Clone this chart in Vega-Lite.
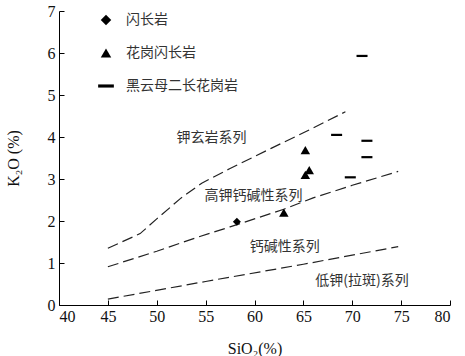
{
  "$schema": "https://vega.github.io/schema/vega-lite/v6.json",
  "autosize": "none",
  "width": 391,
  "height": 294,
  "padding": {"left": 59, "top": 11, "right": 15, "bottom": 51},
  "config": {
    "view": {"stroke": null}
  },
  "datasets": {
    "lines": [
      {"line": "a", "SiO2": 45, "K2O": 1.35},
      {"line": "a", "SiO2": 48.3, "K2O": 1.7},
      {"line": "a", "SiO2": 50, "K2O": 2.05},
      {"line": "a", "SiO2": 52.5, "K2O": 2.55},
      {"line": "a", "SiO2": 54.6, "K2O": 2.9},
      {"line": "a", "SiO2": 57.5, "K2O": 3.25},
      {"line": "a", "SiO2": 61.7, "K2O": 3.73},
      {"line": "a", "SiO2": 65, "K2O": 4.1},
      {"line": "a", "SiO2": 69.3, "K2O": 4.6},
      {"line": "b", "SiO2": 45, "K2O": 0.91},
      {"line": "b", "SiO2": 50, "K2O": 1.28},
      {"line": "b", "SiO2": 54, "K2O": 1.6},
      {"line": "b", "SiO2": 57.5, "K2O": 1.86},
      {"line": "b", "SiO2": 63, "K2O": 2.28},
      {"line": "b", "SiO2": 66, "K2O": 2.55},
      {"line": "b", "SiO2": 70, "K2O": 2.85},
      {"line": "b", "SiO2": 74.7, "K2O": 3.18},
      {"line": "c", "SiO2": 45, "K2O": 0.14},
      {"line": "c", "SiO2": 55, "K2O": 0.56},
      {"line": "c", "SiO2": 65, "K2O": 0.97},
      {"line": "c", "SiO2": 74.7, "K2O": 1.39}
    ],
    "points": [
      {"rock": "闪长岩", "SiO2": 58.2, "K2O": 1.98},
      {"rock": "花岗闪长岩", "SiO2": 65.2, "K2O": 3.69},
      {"rock": "花岗闪长岩", "SiO2": 65.6, "K2O": 3.21},
      {"rock": "花岗闪长岩", "SiO2": 65.2, "K2O": 3.1},
      {"rock": "花岗闪长岩", "SiO2": 63.0, "K2O": 2.2},
      {"rock": "黑云母二长花岗岩", "SiO2": 71.0, "K2O": 5.93},
      {"rock": "黑云母二长花岗岩", "SiO2": 68.4, "K2O": 4.05},
      {"rock": "黑云母二长花岗岩", "SiO2": 71.5, "K2O": 3.91},
      {"rock": "黑云母二长花岗岩", "SiO2": 71.5, "K2O": 3.52},
      {"rock": "黑云母二长花岗岩", "SiO2": 69.8, "K2O": 3.04}
    ],
    "labels": [
      {"text": "钾玄岩系列", "SiO2": 55.6, "K2O": 3.97},
      {"text": "高钾钙碱性系列", "SiO2": 59.9, "K2O": 2.6},
      {"text": "钙碱性系列", "SiO2": 63.1, "K2O": 1.39},
      {"text": "低钾(拉斑)系列", "SiO2": 71.0, "K2O": 0.56}
    ]
  },
  "layer": [
    {
      "data": {"name": "lines"},
      "mark": {"type": "line", "color": "#222", "strokeWidth": 1.2, "strokeDash": [11, 5]},
      "encoding": {
        "x": {
          "field": "SiO2", "type": "quantitative",
          "scale": {"domain": [40, 80], "nice": false, "zero": false},
          "axis": {
            "values": [40, 45, 50, 55, 60, 65, 70, 75, 80], "title": "SiO₂(%)",
            "grid": false, "domainColor": "#000", "tickColor": "#000", "tickSize": -5,
            "labelPadding": 8, "labelFont": "Liberation Serif", "labelFontSize": 16, "labelColor": "#111",
            "titleFont": "Liberation Serif", "titleFontSize": 16, "titleFontWeight": "normal", "titleColor": "#111",
            "titleY": 43, "titleBaseline": "middle"
          }
        },
        "y": {
          "field": "K2O", "type": "quantitative",
          "scale": {"domain": [0, 7], "nice": false},
          "axis": {
            "values": [0, 1, 2, 3, 4, 5, 6, 7], "title": "K₂O (%)",
            "grid": false, "domainColor": "#000", "tickColor": "#000", "tickSize": -5,
            "labelPadding": 9, "labelFont": "Liberation Serif", "labelFontSize": 16, "labelColor": "#111",
            "titleFont": "Liberation Serif", "titleFontSize": 16, "titleFontWeight": "normal", "titleColor": "#111",
            "titleX": -46, "titleY": 147, "titleBaseline": "middle"
          }
        },
        "detail": {"field": "line"}
      }
    },
    {
      "data": {"name": "labels"},
      "mark": {"type": "text", "font": "Noto Sans CJK SC", "fontSize": 14, "color": "#333", "align": "center", "baseline": "middle"},
      "encoding": {
        "x": {"field": "SiO2", "type": "quantitative"},
        "y": {"field": "K2O", "type": "quantitative"},
        "text": {"field": "text"}
      }
    },
    {
      "data": {"name": "points"},
      "transform": [{"filter": "datum.rock === '闪长岩'"}],
      "mark": {"type": "point", "filled": true, "color": "#000", "opacity": 1, "size": 64},
      "encoding": {
        "x": {"field": "SiO2", "type": "quantitative"},
        "y": {"field": "K2O", "type": "quantitative"},
        "shape": {
          "field": "rock", "type": "nominal",
          "scale": {"domain": ["闪长岩", "花岗闪长岩", "黑云母二长花岗岩"], "range": ["diamond", "triangle-up", "M-1.5,-0.3H1.5V0.3H-1.5Z"]},
          "legend": {
            "title": null, "orient": "none", "legendX": 40, "legendY": 2,
            "symbolSize": 110, "symbolFillColor": "#000", "symbolStrokeWidth": 0,
            "labelFont": "Noto Sans CJK SC", "labelFontSize": 14, "labelColor": "#333",
            "labelOffset": 13, "rowPadding": 19, "padding": 0,
            "encode": {"symbols": {"update": {"size": {"value": 110}, "fill": {"value": "#000"}, "opacity": {"value": 1}}}}
          }
        }
      }
    },
    {
      "data": {"name": "points"},
      "transform": [{"filter": "datum.rock === '花岗闪长岩'"}],
      "mark": {"type": "point", "filled": true, "color": "#000", "opacity": 1, "size": 90},
      "encoding": {
        "x": {"field": "SiO2", "type": "quantitative"},
        "y": {"field": "K2O", "type": "quantitative"},
        "shape": {"field": "rock", "type": "nominal"}
      }
    },
    {
      "data": {"name": "points"},
      "transform": [{"filter": "datum.rock === '黑云母二长花岗岩'"}],
      "mark": {"type": "point", "filled": true, "color": "#000", "opacity": 1, "size": 54},
      "encoding": {
        "x": {"field": "SiO2", "type": "quantitative"},
        "y": {"field": "K2O", "type": "quantitative"},
        "shape": {"field": "rock", "type": "nominal"}
      }
    }
  ]
}
